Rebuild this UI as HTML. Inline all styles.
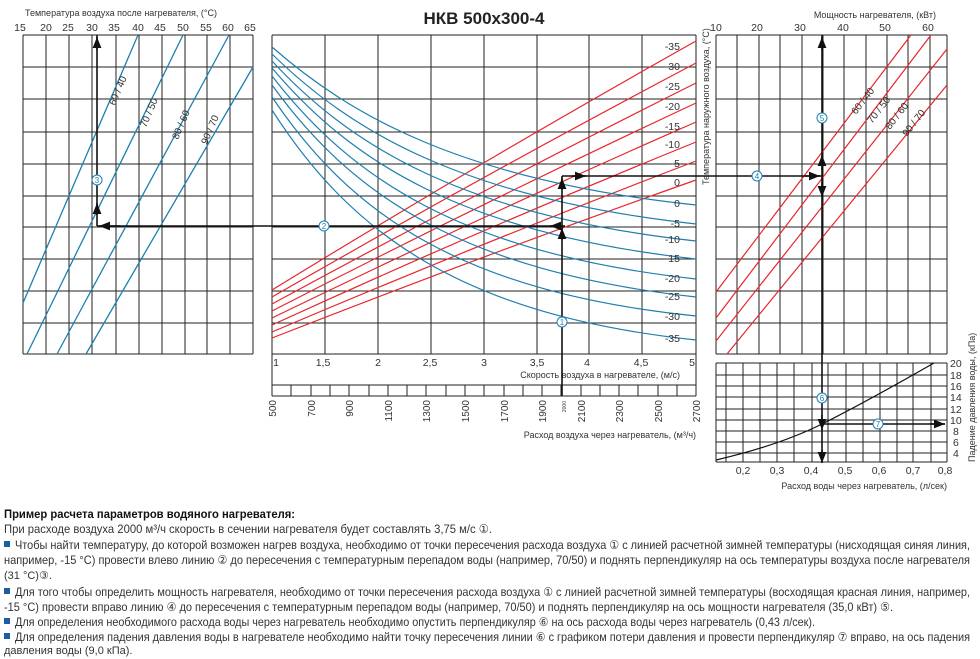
<!DOCTYPE html>
<html><head><meta charset="utf-8"><style>
html,body{margin:0;padding:0;background:#fff;}
svg{display:block;font-family:"Liberation Sans","DejaVu Sans",sans-serif;}
</style></head><body>
<svg width="980" height="659" viewBox="0 0 980 659" xmlns="http://www.w3.org/2000/svg">
<defs>
<marker id="a" viewBox="0 0 10 10" refX="10" refY="5" markerWidth="7" markerHeight="7" orient="auto"><path d="M0,1 L10,5 L0,9 z" fill="#111"/></marker>
</defs>
<text x="484" y="24" font-size="17" font-weight="bold" text-anchor="middle" fill="#222">НКВ 500x300-4</text>
<text x="25" y="16" font-size="9" fill="#333">Температура воздуха после нагревателя, (°C)</text>
<text x="936" y="18" font-size="9" fill="#333" text-anchor="end">Мощность нагревателя, (кВт)</text>
<g font-size="10.5" fill="#333" text-anchor="middle">
<text x="20" y="31">15</text><text x="46" y="31">20</text><text x="68" y="31">25</text><text x="92" y="31">30</text><text x="114" y="31">35</text><text x="138" y="31">40</text><text x="160" y="31">45</text><text x="183" y="31">50</text><text x="206" y="31">55</text><text x="228" y="31">60</text><text x="250" y="31">65</text>
<text x="716" y="31">10</text><text x="757" y="31">20</text><text x="800" y="31">30</text><text x="843" y="31">40</text><text x="885" y="31">50</text><text x="928" y="31">60</text>
</g>
<g stroke="#222" stroke-width="1" fill="none">
<path d="M23,35H253M23,67H253M23,99H253M23,132H253M23,164H253M23,196H253M23,227H253M23,259H253M23,291H253M23,323H253M23,354H253"/>
<path d="M23,35V354M46,35V354M69,35V354M92,35V354M116,35V354M139,35V354M162,35V354M185,35V354M207,35V354M230,35V354M253,35V354"/>
<path d="M272,35H696M272,67H696M272,99H696M272,132H696M272,164H696M272,196H696M272,227H696M272,259H696M272,291H696M272,323H696M272,354H696M272,385H696M272,396H696"/>
<path d="M272,35V396M325,35V354M378,35V354M431,35V354M484,35V354M537,35V354M589,35V354M642,35V354M696,35V396"/>
<path d="M716,35H947M716,67H947M716,99H947M716,132H947M716,164H947M716,196H947M716,227H947M716,259H947M716,291H947M716,323H947M716,354H947"/>
<path d="M716,35V354M737,35V354M759,35V354M780,35V354M802,35V354M823,35V354M844,35V354M866,35V354M887,35V354M908,35V354M930,35V354M947,35V354"/>
<path d="M716,363H947M716,375H947M716,386H947M716,397H947M716,409H947M716,420H947M716,431H947M716,442H947M716,453H947M716,462H947"/>
<path d="M716,363V462M726,363V462M743,363V462M760,363V462M777,363V462M794,363V462M812,363V462M828,363V462M846,363V462M863,363V462M880,363V462M897,363V462M913,363V462M931,363V462M947,363V462"/>
<path d="M291,385V396M311,385V396M330,385V396M349,385V396M369,385V396M388,385V396M407,385V396M426,385V396M446,385V396M465,385V396M484,385V396M504,385V396M523,385V396M542,385V396M561,385V396M581,385V396M600,385V396M619,385V396M638,385V396M658,385V396M677,385V396"/>
</g>
<g stroke="#1d7fb0" stroke-width="1.3" fill="none">
<path d="M23,303L138,35"/><path d="M27,354L183,35"/><path d="M57,354L229,35"/><path d="M86,354L253,67"/>
</g>
<g font-size="10" fill="#333">
<text transform="translate(115,106) rotate(-67)">60 / 40</text>
<text transform="translate(146,128) rotate(-67)">70 / 50</text>
<text transform="translate(178,140) rotate(-67)">80 / 60</text>
<text transform="translate(207,145) rotate(-67)">90 / 70</text>
</g>
<g stroke="#e8262c" stroke-width="1.2" fill="none">
<path d="M272,290Q484,160 696,41"/>
<path d="M272,297Q484,175 696,63"/>
<path d="M272,304Q484,189 696,83"/>
<path d="M272,311Q484,202 696,103"/>
<path d="M272,318Q484,215 696,122"/>
<path d="M272,325Q484,228 696,142"/>
<path d="M272,332Q484,242 696,161"/>
<path d="M272,338Q484,255 696,180"/>
</g>
<g stroke="#1d7fb0" stroke-width="1.2" fill="none">
<path d="M272,47C350,115 460,180 696,205"/>
<path d="M272,54C350,130 460,198 696,224"/>
<path d="M272,61C350,145 460,215 696,241"/>
<path d="M272,68C350,160 460,233 696,259"/>
<path d="M272,76C350,177 460,253 696,279"/>
<path d="M272,85C350,193 460,271 696,297"/>
<path d="M272,97C350,213 460,292 696,316"/>
<path d="M272,110C350,232 460,315 696,340"/>
</g>
<g font-size="10.5" fill="#333" text-anchor="end">
<text x="680" y="50">-35</text><text x="680" y="70">-30</text><text x="680" y="90">-25</text><text x="680" y="110">-20</text><text x="680" y="130">-15</text><text x="680" y="148">-10</text><text x="680" y="167">-5</text><text x="680" y="186">0</text>
<text x="680" y="207">0</text><text x="680" y="227">-5</text><text x="680" y="243">-10</text><text x="680" y="262">-15</text><text x="680" y="282">-20</text><text x="680" y="300">-25</text><text x="680" y="320">-30</text><text x="680" y="342">-35</text>
</g>
<text transform="translate(709,185) rotate(-90)" font-size="9" fill="#333">Температура наружного воздуха, (°C)</text>
<g font-size="10.5" fill="#333" text-anchor="middle">
<text x="276" y="366">1</text><text x="323" y="366">1,5</text><text x="378" y="366">2</text><text x="430" y="366">2,5</text><text x="484" y="366">3</text><text x="537" y="366">3,5</text><text x="587" y="366">4</text><text x="641" y="366">4,5</text><text x="692" y="366">5</text>
</g>
<text x="680" y="378" font-size="9" fill="#333" text-anchor="end">Скорость воздуха в нагревателе, (м/с)</text>
<g font-size="10" fill="#333" text-anchor="end">
<text transform="translate(276,400) rotate(-90)">500</text>
<text transform="translate(315,400) rotate(-90)">700</text>
<text transform="translate(353,400) rotate(-90)">900</text>
<text transform="translate(392,400) rotate(-90)">1100</text>
<text transform="translate(430,400) rotate(-90)">1300</text>
<text transform="translate(469,400) rotate(-90)">1500</text>
<text transform="translate(508,400) rotate(-90)">1700</text>
<text transform="translate(546,400) rotate(-90)">1900</text>
<text transform="translate(585,400) rotate(-90)">2100</text>
<text transform="translate(623,400) rotate(-90)">2300</text>
<text transform="translate(662,400) rotate(-90)">2500</text>
<text transform="translate(700,400) rotate(-90)">2700</text>
<text transform="translate(566,401) rotate(-90)" font-size="5">2000</text>
</g>
<text x="696" y="438" font-size="9" fill="#333" text-anchor="end">Расход воздуха через нагреватель, (м³/ч)</text>
<g stroke="#e8262c" stroke-width="1.2" fill="none">
<path d="M716,292L911,35"/><path d="M716,318L931,35"/><path d="M716,341L947,49"/><path d="M727,354L947,85"/>
</g>
<g font-size="10" fill="#333">
<text transform="translate(856,115) rotate(-52)">60 / 40</text>
<text transform="translate(872,124) rotate(-52)">70 / 50</text>
<text transform="translate(890,130) rotate(-52)">80 / 60</text>
<text transform="translate(907,137) rotate(-52)">90 / 70</text>
</g>
<path d="M716,460Q780,445 822,424T934,363" stroke="#111" stroke-width="1.2" fill="none"/>
<g font-size="10.5" fill="#333">
<text x="950" y="367">20</text><text x="950" y="379">18</text><text x="950" y="390">16</text><text x="950" y="401">14</text><text x="950" y="413">12</text><text x="950" y="424">10</text><text x="953" y="435">8</text><text x="953" y="446">6</text><text x="953" y="457">4</text>
</g>
<text transform="translate(975,462) rotate(-90)" font-size="9" fill="#333">Падение давления воды, (кПа)</text>
<g font-size="10.5" fill="#333" text-anchor="middle">
<text x="743" y="474">0,2</text><text x="777" y="474">0,3</text><text x="811" y="474">0,4</text><text x="845" y="474">0,5</text><text x="879" y="474">0,6</text><text x="913" y="474">0,7</text><text x="945" y="474">0,8</text>
</g>
<text x="947" y="489" font-size="9" fill="#333" text-anchor="end">Расход воды через нагреватель, (л/сек)</text>
<g stroke="#111" stroke-width="1.6" fill="none">
<path d="M562,396V176"/>
<path d="M562,240V228" marker-end="url(#a)"/>
<path d="M562,190V178" marker-end="url(#a)"/>
<path d="M562,226H97"/>
<path d="M565,226H550" marker-end="url(#a)"/>
<path d="M120,226H99" marker-end="url(#a)"/>
<path d="M97,226V35"/>
<path d="M97,215V203" marker-end="url(#a)"/>
<path d="M97,50V37" marker-end="url(#a)"/>
<path d="M562,176H822"/>
<path d="M572,176H586" marker-end="url(#a)"/>
<path d="M805,176H820" marker-end="url(#a)"/>
<path d="M822,35V462"/>
<path d="M822,50V37" marker-end="url(#a)"/>
<path d="M822,170V155" marker-end="url(#a)"/>
<path d="M822,182V197" marker-end="url(#a)"/>
<path d="M822,415V430" marker-end="url(#a)"/>
<path d="M822,450V463" marker-end="url(#a)"/>
<path d="M822,424H945"/>
<path d="M930,424H945" marker-end="url(#a)"/>
</g>
<g font-size="8" fill="#1d7fb0" text-anchor="middle">
<circle cx="97" cy="180" r="5" fill="#fff" stroke="#1d7fb0"/><text x="97" y="183">3</text>
<circle cx="324" cy="226" r="5" fill="#fff" stroke="#1d7fb0"/><text x="324" y="229">2</text>
<circle cx="562" cy="322" r="5" fill="#fff" stroke="#1d7fb0"/><text x="562" y="325">1</text>
<circle cx="757" cy="176" r="5" fill="#fff" stroke="#1d7fb0"/><text x="757" y="179">4</text>
<circle cx="822" cy="118" r="5" fill="#fff" stroke="#1d7fb0"/><text x="822" y="121">5</text>
<circle cx="822" cy="398" r="5" fill="#fff" stroke="#1d7fb0"/><text x="822" y="401">6</text>
<circle cx="878" cy="424" r="5" fill="#fff" stroke="#1d7fb0"/><text x="878" y="427">7</text>
</g>
<g font-size="12" fill="#333">
<text x="4" y="518" font-weight="bold" fill="#111" textLength="291" lengthAdjust="spacingAndGlyphs">Пример расчета параметров водяного нагревателя:</text>
<text x="4" y="533" textLength="488" lengthAdjust="spacingAndGlyphs">При расходе воздуха 2000 м³/ч скорость в сечении нагревателя будет составлять 3,75 м/с ①.</text>
<text x="15" y="549" textLength="955" lengthAdjust="spacingAndGlyphs">Чтобы найти температуру, до которой возможен нагрев воздуха, необходимо от точки пересечения расхода воздуха ① с линией расчетной зимней температуры (нисходящая синяя линия,</text>
<text x="4" y="564" textLength="966" lengthAdjust="spacingAndGlyphs">например, -15 °C) провести влево линию ② до пересечения с температурным перепадом воды (например, 70/50) и поднять перпендикуляр на ось температуры воздуха после нагревателя</text>
<text x="4" y="579" font-size="11">(31 °C)③.</text>
<text x="15" y="596" textLength="955" lengthAdjust="spacingAndGlyphs">Для того чтобы определить мощность нагревателя, необходимо от точки пересечения расхода воздуха ① с линией расчетной зимней температуры (восходящая красная линия, например,</text>
<text x="4" y="611" textLength="889" lengthAdjust="spacingAndGlyphs">-15 °C) провести вправо линию ④ до пересечения с температурным перепадом воды (например, 70/50) и поднять перпендикуляр на ось мощности нагревателя (35,0 кВт) ⑤.</text>
<text x="15" y="626" textLength="800" lengthAdjust="spacingAndGlyphs">Для определения необходимого расхода воды через нагреватель необходимо опустить перпендикуляр ⑥ на ось расхода воды через нагреватель (0,43 л/сек).</text>
<text x="15" y="641" textLength="955" lengthAdjust="spacingAndGlyphs">Для определения падения давления воды в нагревателе необходимо найти точку пересечения линии ⑥ с графиком потери давления и провести перпендикуляр ⑦ вправо, на ось падения</text>
<text x="4" y="654" font-size="11">давления воды (9,0 кПа).</text>
</g>
<g fill="#1d5f9e">
<rect x="4" y="541" width="6" height="6"/><rect x="4" y="588" width="6" height="6"/><rect x="4" y="618" width="6" height="6"/><rect x="4" y="633" width="6" height="6"/>
</g>
</svg>
</body></html>
